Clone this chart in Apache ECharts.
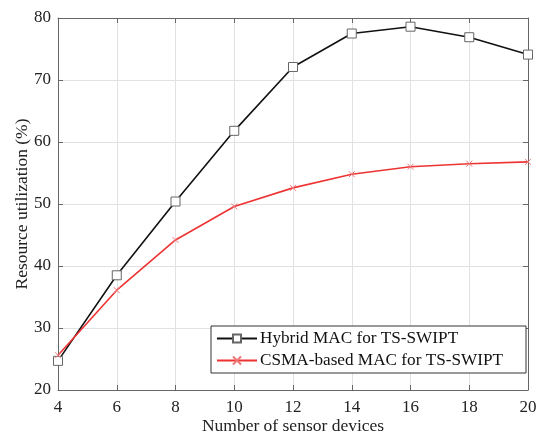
<!DOCTYPE html>
<html><head><meta charset="utf-8">
<script src="https://cdn.jsdelivr.net/npm/echarts@6/dist/echarts.min.js"></script>
<style>html,body{margin:0;padding:0;background:#fff}#c{width:536px;height:438px}</style>
</head><body><div id="c"></div>
<script>
const xValues = [4, 6, 8, 10, 12, 14, 16, 18, 20];
const hybrid = [24.7, 38.5, 50.4, 61.8, 72.1, 77.5, 78.6, 76.9, 74.1];
const csma = [25.6, 36.1, 44.2, 49.6, 52.6, 54.8, 56.0, 56.5, 56.8];
const seriesNames = ['Hybrid MAC for TS-SWIPT', 'CSMA-based MAC for TS-SWIPT'];
const xTitle = 'Number of sensor devices';
const yTitle = 'Resource utilization (%)';

const font = '"Liberation Serif", "Times New Roman", serif';
const xPath = 'path://M0,0L10,10M10,0L0,10';
const chart = echarts.init(document.getElementById('c'));
const axisCommon = {
  axisLine: {show: true, onZero: false, lineStyle: {color: '#666', width: 1}},
  axisTick: {show: true, inside: true, length: 5, lineStyle: {color: '#666'}},
};
chart.setOption({
  animation: false,
  grid: {left: 58, right: 8, top: 18, bottom: 48, containLabel: false, outerBoundsMode: 'none'},
  legend: {
    left: 211, top: 326, orient: 'vertical', itemGap: 5,
    backgroundColor: '#fff', borderColor: '#333', borderWidth: 1,
    padding: [4, 23, 4, 5], itemWidth: 40, itemHeight: 10,
    textStyle: {fontFamily: font, fontSize: 17.2, color: '#111', padding: [0, 0, 0, -2]},
    data: seriesNames
  },
  xAxis: [
    Object.assign({type: 'value', min: 4, max: 20, interval: 2, position: 'bottom',
      axisLabel: {fontFamily: font, fontSize: 17, color: '#222', margin: 9},
      splitLine: {show: true, lineStyle: {color: '#e2e2e2'}},
      name: xTitle, nameLocation: 'middle', nameGap: 27, nameMoveOverlap: false,
      nameTextStyle: {fontFamily: font, fontSize: 17.5, color: '#222'}}, axisCommon),
    Object.assign({type: 'value', min: 4, max: 20, interval: 2, position: 'top',
      axisLabel: {show: false}, splitLine: {show: false}}, axisCommon)
  ],
  yAxis: [
    Object.assign({type: 'value', min: 20, max: 80, interval: 10, position: 'left',
      axisLabel: {fontFamily: font, fontSize: 17, color: '#222', margin: 7},
      splitLine: {show: true, lineStyle: {color: '#e2e2e2'}},
      name: yTitle, nameLocation: 'middle', nameGap: 27, nameMoveOverlap: false,
      nameTextStyle: {fontFamily: font, fontSize: 17.5, color: '#222'}}, axisCommon),
    Object.assign({type: 'value', min: 20, max: 80, interval: 10, position: 'right',
      axisLabel: {show: false}, splitLine: {show: false}}, axisCommon)
  ],
  series: [
    {name: seriesNames[0], type: 'line', data: xValues.map((x, i) => [x, hybrid[i]]),
      lineStyle: {color: '#111', width: 1.6}, itemStyle: {color: '#fff', borderColor: '#666', borderWidth: 1},
      color: '#111', symbol: 'rect', symbolSize: 9, showAllSymbol: true},
    {name: seriesNames[1], type: 'line', data: xValues.map((x, i) => [x, csma[i]]),
      lineStyle: {color: '#ee3333', width: 1.6}, itemStyle: {color: '#ee7777', borderColor: '#ee7777', borderWidth: 1},
      color: '#ee3333', symbol: xPath, symbolSize: 6, showAllSymbol: true}
  ]
});
</script></body></html>
